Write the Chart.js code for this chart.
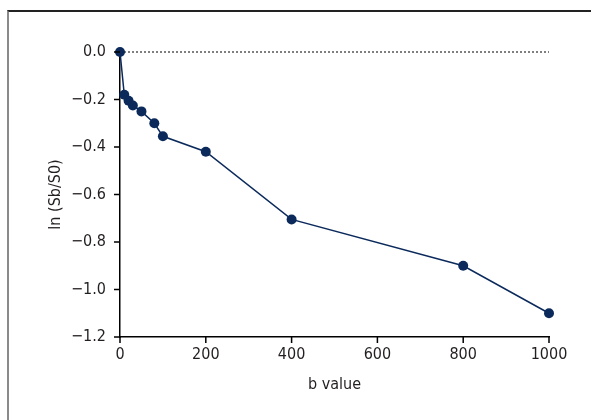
<!DOCTYPE html>
<html>
<head>
<meta charset="utf-8">
<script src="https://cdn.jsdelivr.net/npm/chart.js@4"></script>
<style>
  html, body { margin: 0; padding: 0; background: #fff; }
  #wrap { position: relative; width: 591px; height: 420px; overflow: hidden; }
  #frame { position: absolute; left: 7px; top: 10px; right: -5px; bottom: -5px;
           border-top: 2px solid #222; border-left: 2px solid #8a8a8a; }
  canvas { position: absolute; left: 0; top: 0; }
</style>
</head>
<body>
<div id="wrap">
  <div id="frame"></div>
  <canvas id="chart" width="591" height="420"></canvas>
</div>
<script>
// b values and ln(Sb/S0)
var bValues = [0, 10, 20, 30, 50, 80, 100, 200, 400, 800, 1000];
var lnSignal = [0, -0.18, -0.205, -0.225, -0.25, -0.30, -0.355, -0.42, -0.705, -0.90, -1.10];
var xRange = [0, 1000], xStep = 200;
var yRange = [-1.2, 0], yStep = 0.2;

var navy = '#0b2a5b';
var ink = '#231f20';
var fontFamily = '"DejaVu Sans Condensed", "Liberation Sans Narrow", sans-serif';

function fmtY(v) {
    var s = Math.abs(v).toFixed(1);
    return v < -1e-9 ? '\u2212' + s : s;
}

var points = bValues.map(function (b, i) {
    return { x: b, y: lnSignal[i] };
});

// outward tick marks on both axes
var tickMarks = {
    id: 'tickMarks',
    afterDraw: function (chart) {
        var c = chart.ctx, xs = chart.scales.x, ys = chart.scales.y, len = 6;
        c.save();
        c.strokeStyle = '#000';
        c.lineWidth = 1.5;
        c.beginPath();
        xs.ticks.forEach(function (t) {
            var px = xs.getPixelForValue(t.value);
            c.moveTo(px, xs.top);
            c.lineTo(px, xs.top + len);
        });
        ys.ticks.forEach(function (t) {
            var py = ys.getPixelForValue(t.value);
            c.moveTo(ys.right, py);
            c.lineTo(ys.right - len, py);
        });
        c.stroke();
        c.restore();
    }
};

var ctx = document.getElementById('chart').getContext('2d');
var myChart = new Chart(ctx, {
    type: 'scatter',
    data: {
        datasets: [{
            label: 'ln (Sb/S0)',
            data: points,
            showLine: true,
            borderColor: navy,
            borderWidth: 1.5,
            backgroundColor: navy,
            pointRadius: 5,
            pointBorderWidth: 0,
            clip: false,
            order: 1
        }, {
            label: 'zero',
            data: [{ x: xRange[0], y: 0 }, { x: xRange[1], y: 0 }],
            showLine: true,
            borderColor: '#000',
            borderWidth: 1,
            borderDash: [2, 2],
            pointRadius: 0,
            clip: false,
            order: 2
        }]
    },
    options: {
        responsive: false,
        animation: false,
        layout: { padding: { left: 46, top: 52, right: 42, bottom: 26 } },
        plugins: { legend: { display: false }, tooltip: { enabled: false } },
        scales: {
            x: {
                type: 'linear',
                min: xRange[0],
                max: xRange[1],
                afterFit: function (scale) { scale.height = 57; },
                grid: { display: false, tickLength: 6 },
                border: { display: true, color: '#000', width: 1.5 },
                ticks: { stepSize: xStep, color: ink, padding: 2, font: { family: fontFamily, size: 16 },
                         callback: function (v) { return String(v); } },
                title: { display: true, text: 'b value', color: ink, padding: { top: 0, bottom: 0 },
                         font: { family: fontFamily, size: 16 } }
            },
            y: {
                type: 'linear',
                min: yRange[0],
                max: yRange[1],
                afterFit: function (scale) { scale.width = 74; },
                grid: { display: false, tickLength: 6 },
                border: { display: true, color: '#000', width: 1.5 },
                ticks: { stepSize: yStep, color: ink, padding: 8, font: { family: fontFamily, size: 16 },
                         callback: function (v) { return fmtY(v); } },
                title: { display: true, text: 'ln (Sb/S0)', color: ink, padding: 0,
                         font: { family: fontFamily, size: 16 } }
            }
        }
    },
    plugins: [tickMarks]
});
</script>
</body>
</html>
